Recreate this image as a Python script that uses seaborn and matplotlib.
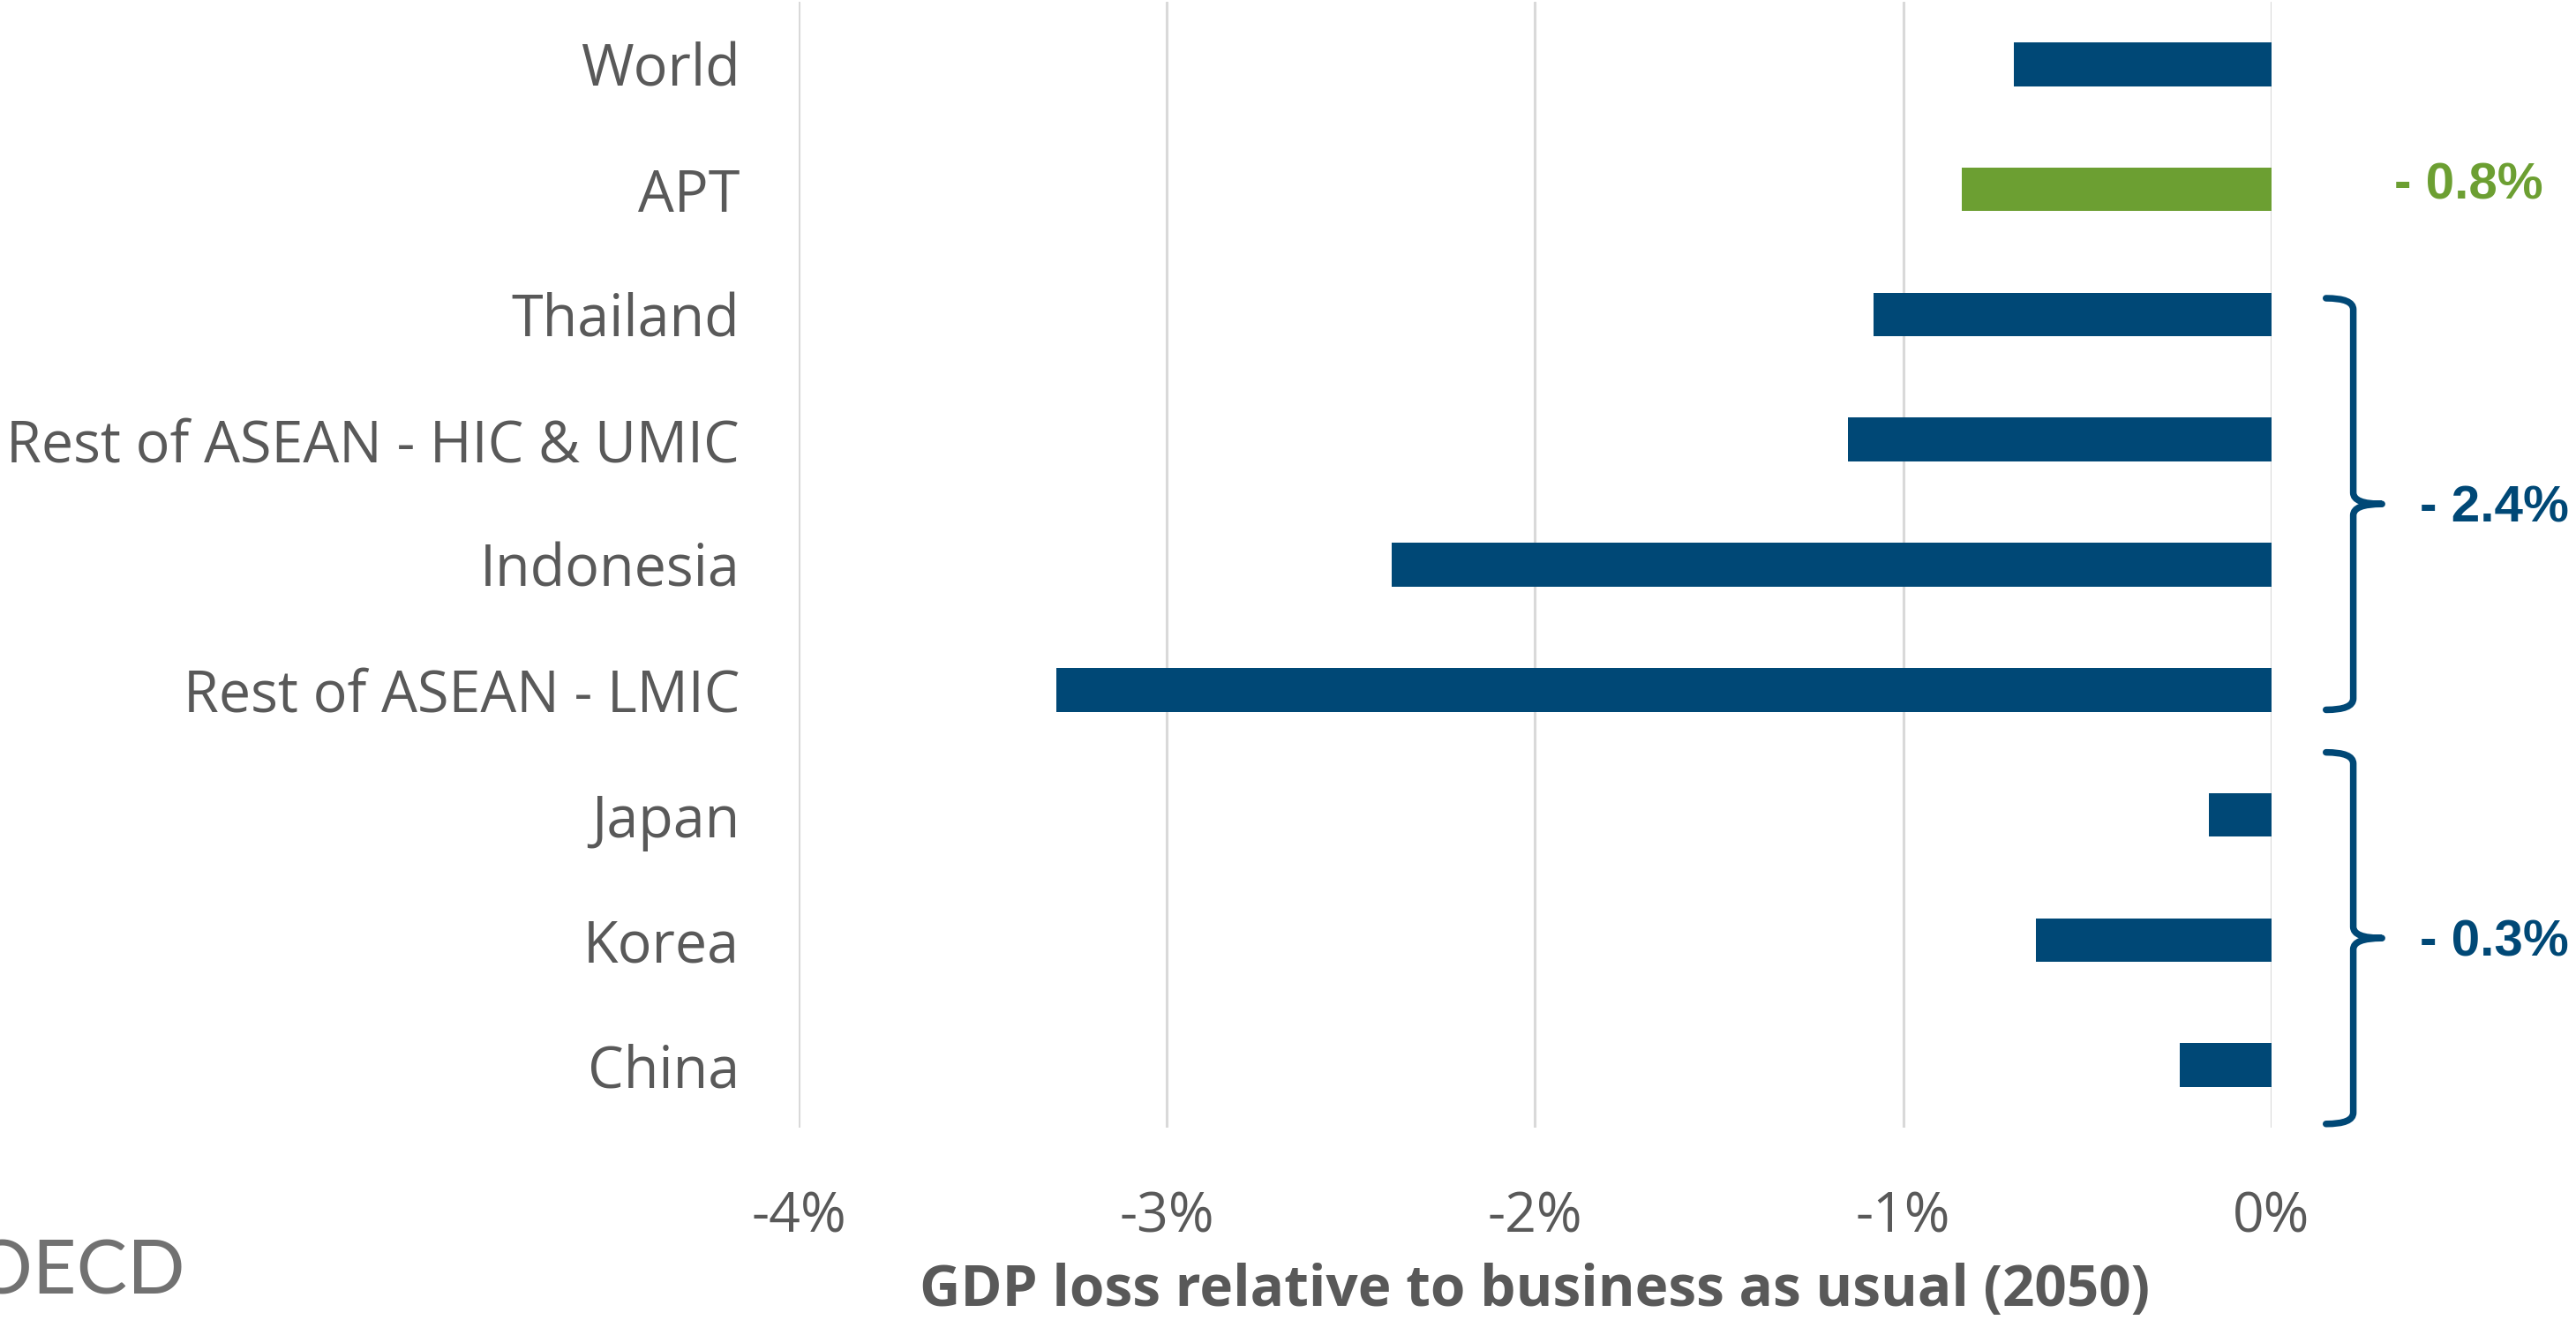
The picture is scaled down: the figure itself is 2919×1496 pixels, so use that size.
import matplotlib
matplotlib.use('Agg')
import matplotlib.pyplot as plt
from matplotlib.path import Path
from matplotlib.patches import PathPatch
from matplotlib.ticker import FuncFormatter
import pandas as pd
import seaborn as sns

# chart values
countries = ['World', 'APT', 'Thailand', 'Rest of ASEAN - HIC & UMIC',
	'Indonesia', 'Rest of ASEAN - LMIC', 'Japan', 'Korea', 'China']
gdp_loss = [-0.70, -0.84, -1.08, -1.15, -2.39, -3.30, -0.17, -0.64, -0.25]
highlight = 'APT'
highlight_label = '- 0.8%'
groups = [['Thailand', 'Rest of ASEAN - HIC & UMIC', 'Indonesia', 'Rest of ASEAN - LMIC'],
	['Japan', 'Korea', 'China']]
group_labels = ['- 2.4%', '- 0.3%']
x_ticks = [-4, -3, -2, -1, 0]
x_title = 'GDP loss relative to business as usual (2050)'

navy = '#004876'
green = '#6c9f32'
grey = '#595959'

sns.set_theme(style='white')
plt.rcParams['font.family'] = ['Open Sans', 'DejaVu Sans']

df = pd.DataFrame({'country': countries, 'loss': gdp_loss})
palette = {c: (green if c == highlight else navy) for c in countries}

fig = plt.figure(figsize=(29.19, 14.96), dpi=100)
ax = fig.add_axes([0.3100, 0.1457, 0.5718, 0.8530])
sns.barplot(data=df, x='loss', y='country', hue='country', palette=palette,
	legend=False, width=0.35, saturation=1, linewidth=0, ax=ax)

ax.set_xlim(-4, 0)
ax.set_ylim(len(countries) - 0.5, -0.5)
ax.set_xticks(x_ticks)
ax.xaxis.set_major_formatter(FuncFormatter(lambda v, p: '%d%%' % round(v)))
ax.grid(axis='x', color='#d9d9d9', linewidth=2.2)
ax.grid(axis='y', visible=False)
ax.set_axisbelow(True)
for s in ax.spines.values():
	s.set_visible(False)
ax.tick_params(axis='y', length=0, pad=48, labelsize=46.5, labelcolor=grey)
ax.tick_params(axis='x', length=0, pad=51, labelsize=45, labelcolor=grey)
ax.set_ylabel('')
ax.set_xlabel(x_title, fontsize=46, fontweight='bold', color=grey, labelpad=14)

# braces for the country groups
hook_x, stem_x, tip_x = 0.148, 0.222, 0.300
pads = [(0.13, 0.16), (0.50, 0.47)]
for members, lab, (p_top, p_bot) in zip(groups, group_labels, pads):
	top = countries.index(members[0]) - p_top
	bot = countries.index(members[-1]) + p_bot
	mid = (top + bot) / 2
	r = 0.09
	verts = [(hook_x, top), (stem_x, top), (stem_x, top + r),
		(stem_x, mid - r), (stem_x, mid), (tip_x, mid),
		(stem_x, mid), (stem_x, mid + r),
		(stem_x, bot - r), (stem_x, bot), (hook_x, bot)]
	codes = [Path.MOVETO, Path.CURVE3, Path.CURVE3,
		Path.LINETO, Path.CURVE3, Path.CURVE3,
		Path.CURVE3, Path.CURVE3,
		Path.LINETO, Path.CURVE3, Path.CURVE3]
	ax.add_patch(PathPatch(Path(verts, codes), fill=False, edgecolor=navy,
		linewidth=5.4, capstyle='round', joinstyle='round', clip_on=False))
	ax.text(0.403, mid + 0.04, lab, color=navy, fontsize=42, fontweight='bold',
		family=['Liberation Sans', 'DejaVu Sans'], ha='left', va='center', clip_on=False)

ax.text(0.333, countries.index(highlight) - 0.03, highlight_label, color=green,
	fontsize=42, fontweight='bold', family=['Liberation Sans', 'DejaVu Sans'],
	ha='left', va='center', clip_on=False)

# OECD mark, bottom left, cut at the edge as in the source
fig.text(-0.011, 0.0194, 'OECD', color='#717171', fontsize=62,
	family=['Lato', 'DejaVu Sans'], ha='left', va='baseline')

fig.savefig('out.png', dpi=100)
